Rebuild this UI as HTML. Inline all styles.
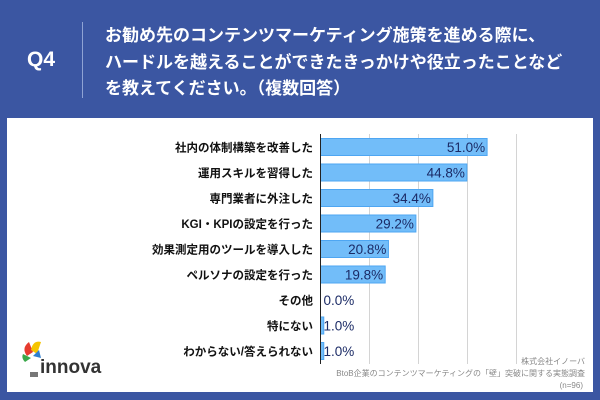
<!DOCTYPE html>
<html><head><meta charset="utf-8"><style>
body{margin:0;width:600px;height:400px;background:#3b56a2;overflow:hidden;font-family:"Liberation Sans","Noto Sans CJK JP",sans-serif;position:relative}
.q{position:absolute;left:27px;top:48px;color:#fff;font-weight:bold;font-size:21px}
.div{position:absolute;left:82px;top:22px;width:1px;height:76px;background:#8fa3d4}
.t{position:absolute;left:105px;top:23px;color:#fff;font-weight:bold;font-size:17px;line-height:26.5px;white-space:nowrap}
.panel{position:absolute;left:7px;top:118px;width:586px;height:274px;background:#fff}
</style></head><body>
<div class="q">Q4</div>
<div class="div"></div>
<div class="t">お勧め先のコンテンツマーケティング施策を進める際に、<br>ハードルを越えることができたきっかけや役立ったことなど<br>を教えてください。（複数回答）</div>
<div class="panel"></div>
<svg id="c" width="600" height="400" style="position:absolute;left:0;top:0">
<g>
<path d="M27 356 q-6 -8 2 -14 l4 10 z" fill="#e63b2e"/><path d="M31 350 q2 -10 10 -8 l-4 12 z" fill="#f5c400"/><path d="M25 362 q-4 -4 -2 -8 l8 4z" fill="#3aa84a"/><path d="M33 356 l6 -6 l2 8z" fill="#2e7fd0"/>
<rect x="30" y="372" width="8" height="5" fill="#777"/>
<text x="40" y="373" font-size="19" font-weight="bold" fill="#333" font-family="Liberation Sans, sans-serif">innova</text>
</g>
<text x="585" y="364" font-size="8" fill="#888" text-anchor="end">株式会社イノーバ</text>
<text x="585" y="376" font-size="8" fill="#888" text-anchor="end">BtoB企業のコンテンツマーケティングの「壁」突破に関する実態調査</text>
<text x="583" y="388" font-size="8" fill="#888" text-anchor="end">(n=96)</text>
</svg>
<script>
const categories=["社内の体制構築を改善した","運用スキルを習得した","専門業者に外注した","KGI・KPIの設定を行った","効果測定用のツールを導入した","ペルソナの設定を行った","その他","特にない","わからない/答えられない"];
const values=[51.0,44.8,34.4,29.2,20.8,19.8,0.0,1.0,1.0];
const gridTicks=[15,30,45,60];
const svg=document.getElementById('c');const NS='http://www.w3.org/2000/svg';
const x0=320.5,pxPer=196/60,y0=147,step=25.5,bh=17;
const xs=v=>x0+v*pxPer, ys=i=>y0+i*step;
function mk(t,a){const e=document.createElementNS(NS,t);for(const k in a)e.setAttribute(k,a[k]);svg.appendChild(e);return e;}
gridTicks.forEach(g=>{const l=mk('line',{x1:xs(g),x2:xs(g),y1:134,y2:364,stroke:'#d4d4d4','stroke-width':1});

});
categories.forEach((c,i)=>{
const w=values[i]*pxPer;
if(w>0){const r=mk('rect',{x:x0,y:ys(i)-bh/2,width:w,height:bh,fill:'#72bdf9',stroke:'#4ea6f2','stroke-width':1});

}
const lab=mk('text',{x:313,y:ys(i)+4.5,'font-size':11.5,'font-weight':'bold',fill:'#111','text-anchor':'end'});lab.textContent=c;


const big=w>40;
const v=mk('text',{x:big?x0+w-2:x0+3,y:ys(i)+5,'font-size':13.5,fill:'#1b2b66','text-anchor':big?'end':'start'});v.textContent=values[i].toFixed(1)+'%';


});
const ax=mk('line',{x1:x0,x2:x0,y1:134,y2:364,stroke:'#222','stroke-width':1});


</script>
</body></html>
